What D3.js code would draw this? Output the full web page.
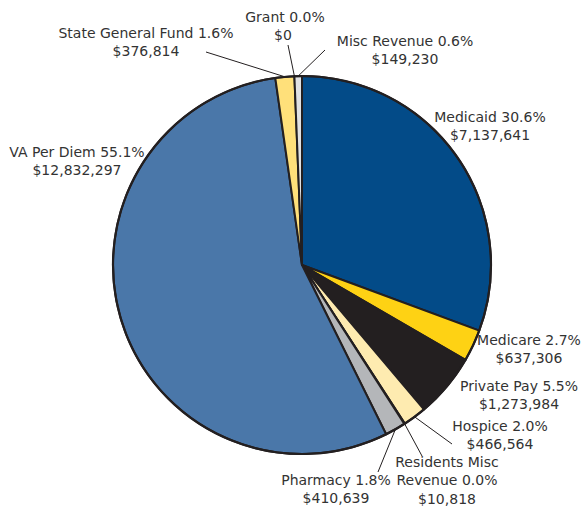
<!DOCTYPE html>
<html>
<head>
<meta charset="utf-8">
<script src="https://cdn.jsdelivr.net/npm/d3@7"></script>
<style>
  body { margin: 0; background: #fff; }
  svg { display: block; }
</style>
</head>
<body>
<svg id="chart"></svg>
<script>
// data, clockwise from 12 o'clock
const categories = ["Medicaid", "Medicare", "Private Pay", "Hospice", "Residents Misc Revenue",
    "Pharmacy", "VA Per Diem", "State General Fund", "Grant", "Misc Revenue"];
const amounts = [7137641, 637306, 1273984, 466564, 10818, 410639, 12832297, 376814, 0, 149230];
const pctLabels = ["30.6%", "2.7%", "5.5%", "2.0%", "0.0%", "1.8%", "55.1%", "1.6%", "0.0%", "0.6%"];
const colors = ["#034b88", "#fed214", "#231f20", "#feebb0", "#e8d9a0", "#b4b6b9",
    "#4a77a9", "#ffe07a", "#cccccc", "#e0e1e3"];

// label layout: text lines, anchor point, optional leader end
const labelLayout = {
    "Medicaid":               { x: 490, y: 117, lines: ["Medicaid 30.6%"] },
    "Medicare":               { x: 529, y: 340, lines: ["Medicare 2.7%"] },
    "Private Pay":            { x: 519, y: 386, lines: ["Private Pay 5.5%"] },
    "Hospice":                { x: 500, y: 426, lines: ["Hospice 2.0%"], leader: [452, 444] },
    "Residents Misc Revenue": { x: 447, y: 462, lines: ["Residents Misc", "Revenue 0.0%"], leader: [422, 456] },
    "Pharmacy":               { x: 336, y: 480, lines: ["Pharmacy 1.8%"], leader: [378, 472] },
    "VA Per Diem":            { x: 77,  y: 152, lines: ["VA Per Diem 55.1%"] },
    "State General Fund":     { x: 146, y: 33,  lines: ["State General Fund 1.6%"], leader: [206, 52] },
    "Grant":                  { x: 285, y: 17,  lines: ["Grant 0.0%"], dollarDx: -2, leader: [288, 45] },
    "Misc Revenue":           { x: 405, y: 41,  lines: ["Misc Revenue 0.6%"], leader: [325, 50] }
};

const width = 587, height = 508;
const cx = 302, cy = 265, radius = 189;

const svg = d3.select("#chart")
    .attr("width", width)
    .attr("height", height)
    .style("font-family", "'DejaVu Sans', sans-serif")
    .style("font-size", "14px");

const data = categories.map((c, i) => ({ name: c, value: amounts[i], pct: pctLabels[i], color: colors[i] }));

const pie = d3.pie().sort(null).value(d => d.value).startAngle(0).endAngle(2 * Math.PI);
const arc = d3.arc().innerRadius(0).outerRadius(radius);
const arcs = pie(data);

const g = svg.append("g").attr("transform", `translate(${cx},${cy})`);

// slices
g.selectAll("path")
    .data(arcs.filter(d => d.value > 0))
    .enter().append("path")
    .attr("d", arc)
    .attr("fill", d => d.data.color)
    .attr("stroke", "#231f20")
    .attr("stroke-width", 2)
    .attr("stroke-linejoin", "round");

// outer ring
g.append("circle")
    .attr("r", radius)
    .attr("fill", "none")
    .attr("stroke", "#231f20")
    .attr("stroke-width", 2.2);

const fmt = d3.format("$,");

// leader lines
arcs.forEach(d => {
    const lay = labelLayout[d.data.name];
    if (!lay.leader) return;
    const a = (d.startAngle + d.endAngle) / 2;
    const px = cx + radius * Math.sin(a);
    const py = cy - radius * Math.cos(a);
    svg.append("line")
        .attr("x1", lay.leader[0]).attr("y1", lay.leader[1])
        .attr("x2", px).attr("y2", py)
        .attr("stroke", "#231f20")
        .attr("stroke-width", 1);
});

// labels
arcs.forEach(d => {
    const lay = labelLayout[d.data.name];
    const lines = lay.lines.concat([fmt(d.data.value)]);
    const t = svg.append("text")
        .attr("text-anchor", "middle")
        .attr("fill", "#333");
    lines.forEach((l, i) => {
        t.append("tspan")
            .attr("x", lay.x + (i === lines.length - 1 && lay.dollarDx ? lay.dollarDx : 0))
            .attr("y", lay.y + i * 18.5)
            .attr("dy", "0.35em")
            .text(l);
    });
});
</script>
</body>
</html>
